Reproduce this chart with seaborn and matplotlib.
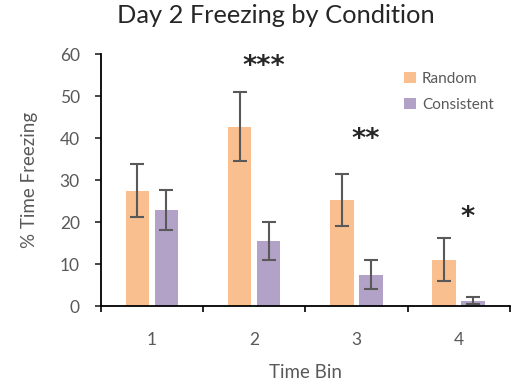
import matplotlib
matplotlib.use("Agg")
import matplotlib.pyplot as plt
import seaborn as sns
import pandas as pd
import numpy as np

# Data
time_bins = ["1", "2", "3", "4"]
conditions = ["Random", "Consistent"]
random_mean = [27.4, 42.7, 25.2, 11.0]
random_err = [6.3, 8.2, 6.2, 5.1]
consistent_mean = [22.9, 15.5, 7.5, 1.3]
consistent_err = [4.8, 4.5, 3.4, 0.9]
stars = ["", "***", "**", "*"]
star_y = [None, 58.2, 40.7, 22.1]

colors = ["#F9BF8F", "#B3A2C7"]

sns.set_theme(style="ticks")
plt.rcParams["font.family"] = ["Lato", "DejaVu Sans"]

df = pd.DataFrame({
    "Time Bin": time_bins * 2,
    "value": random_mean + consistent_mean,
    "Condition": [conditions[0]] * 4 + [conditions[1]] * 4,
    "err": random_err + consistent_err,
})

fig = plt.figure(figsize=(5.15, 3.83), dpi=100)
ax = fig.add_axes([0.1955, 0.201, 0.7945, 0.658])

sns.barplot(data=df, x="Time Bin", y="value", hue="Condition", order=time_bins,
            hue_order=conditions, palette=colors, errorbar=None, width=0.567,
            gap=0.19, saturation=1, ax=ax, linewidth=0)

# Error bars at bar centers
for container, cond in zip(ax.containers, conditions):
    sub = df[df["Condition"] == cond]
    xs = [p.get_x() + p.get_width() / 2 for p in container.patches]
    ax.errorbar(xs, sub["value"].values, yerr=sub["err"].values, fmt="none",
                ecolor="#595959", elinewidth=1.5, capsize=5, capthick=1.5, zorder=5)

# Significance stars
for i, (s, y) in enumerate(zip(stars, star_y)):
    if s:
        ax.text(i + 0.09, y - 1.2, s, ha="center", va="center", fontsize=19.5,
                color="#262626", fontweight="bold", family="DejaVu Sans")

ax.set_xlim(-0.5, 3.5)
ax.set_ylim(0, 60)
ax.set_yticks(np.arange(0, 61, 10))
ax.set_xticks(np.arange(-0.5, 3.6, 1.0))
ax.set_xticklabels([])
ax.set_xticks(range(4), minor=True)
ax.set_xticklabels(time_bins, minor=True)
ax.tick_params(axis="x", which="minor", length=0, pad=19, labelsize=12.5, labelcolor="#595959")
ax.tick_params(axis="x", which="major", length=4, width=1.2, direction="out", color="black")
ax.tick_params(axis="y", length=4, width=1.2, direction="out", labelsize=12.5,
               labelcolor="#595959", pad=11)

for sp in ["top", "right"]:
    ax.spines[sp].set_visible(False)
for sp in ["left", "bottom"]:
    ax.spines[sp].set_color("black")
    ax.spines[sp].set_linewidth(1.3)

ax.set_xlabel("Time Bin", fontsize=13.5, color="#595959", labelpad=11)
ax.set_ylabel("% Time Freezing", fontsize=13.5, color="#595959", labelpad=16)
fig.suptitle("Day 2 Freezing by Condition", fontsize=18.3, color="#262626", x=0.535, y=0.99)

leg = ax.legend(loc="upper left", bbox_to_anchor=(0.742, 0.93), frameon=False,
                fontsize=11, handlelength=0.75, handleheight=0.75, handletextpad=0.4,
                labelspacing=0.8, borderpad=0, borderaxespad=0)
for t in leg.get_texts():
    t.set_color("#595959")

fig.savefig("out.png", dpi=100)
